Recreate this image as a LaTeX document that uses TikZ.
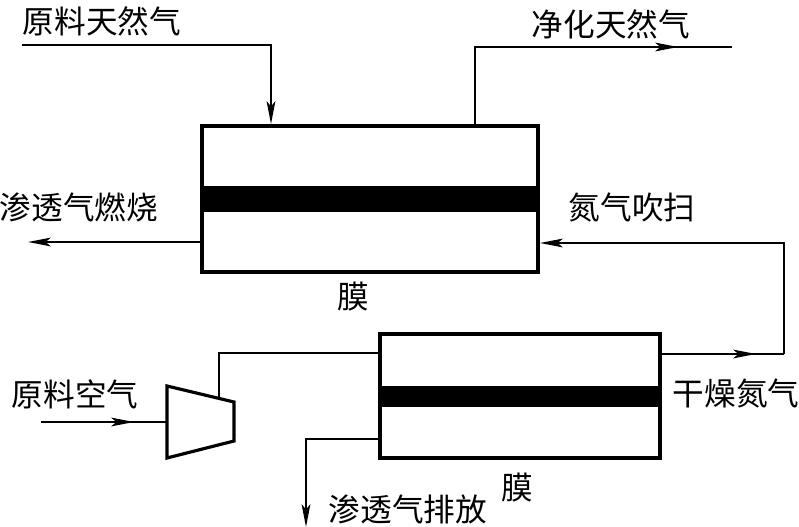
\documentclass[tikz,border=0pt]{standalone}
\usepackage{fontspec}
\setmainfont{Noto Sans CJK SC}
\usetikzlibrary{arrows.meta}

\begin{document}
\begin{tikzpicture} [x = .02cm, y = -.02cm,
  membox/.style = {draw, line width = 2.3pt, inner sep = 0, outer sep = 0},
  band/.style = {fill = black, inner sep = 0, outer sep = 0},
  pipe/.style = {line width = .8pt},
  flow/.style = {line width = .8pt, -{Stealth[length = 13pt, width = 5pt, inset = 3pt]}},
  lab/.style = {font = \fontsize{18pt}{20pt}\selectfont, inner sep = 0}]
\useasboundingbox (0,0) rectangle (799,527);
% membrane units
\node(box1) [membox, minimum width = 336*.02cm, minimum height = 146*.02cm] at (370,199) {};
\node(bar1) [band, minimum width = 336*.02cm, minimum height = 26*.02cm] at (370,199) {};
\node(box2) [membox, minimum width = 280*.02cm, minimum height = 124*.02cm] at (520,396) {};
\node(bar2) [band, minimum width = 280*.02cm, minimum height = 21*.02cm] at (520,396) {};
% compressor
\coordinate(c1) at (167,386);
\coordinate(c2) at (234,402);
\coordinate(c3) at (234,441);
\coordinate(c4) at (167,458);
\draw [line width = 1.8pt] (c1) -- (c2) -- (c3) -- (c4) -- cycle;
% free ends of the pipes
\coordinate(f1) at (22,45);
\coordinate(f2) at (271,45);
\coordinate(f3) at (271,124);
\coordinate(p1) at (475,126);
\coordinate(p2) at (475,47);
\coordinate(p3) at (678,47);
\coordinate(p4) at (732,47);
\coordinate(w1) at (202,242);
\coordinate(w2) at (28,242);
\coordinate(s1) at (784,354);
\coordinate(s2) at (784,243);
\coordinate(s3) at (540,243);
\coordinate(d1) at (660,354);
\coordinate(d2) at (756,354);
\coordinate(a1) at (41,422);
\coordinate(a2) at (134,422);
\coordinate(a3) at (167,422);
\coordinate(o1) at (219,398);
\coordinate(o2) at (219,353);
\coordinate(o3) at (380,353);
\coordinate(v1) at (380,439);
\coordinate(v2) at (306,439);
\coordinate(v3) at (306,527);
% pipes
\draw [flow] (f1) -- (f2) -- (f3);
\draw [pipe] (p1) -- (p2) -- (p4);
\draw [flow] (p2) -- (p3);
\draw [flow] (w1) -- (w2);
\draw [flow] (s1) -- (s2) -- (s3);
\draw [pipe] (d1) -- (s1);
\draw [flow] (d1) -- (d2);
\draw [pipe] (a1) -- (a3);
\draw [flow] (a1) -- (a2);
\draw [pipe] (o1) -- (o2) -- (o3);
\draw [flow] (v1) -- (v2) -- (v3);
% labels
\node(t1) [lab] at (102,21) {原料天然气};
\node(t2) [lab] at (611,24) {净化天然气};
\node(t3) [lab] at (79,207) {渗透气燃烧};
\node(t4) [lab] at (632,207) {氮气吹扫};
\node(t5) [lab] at (353,297) {膜};
\node(t6) [lab] at (75,394) {原料空气};
\node(t7) [lab] at (736,393) {干燥氮气};
\node(t8) [lab] at (517,488) {膜};
\node(t9) [lab] at (408,509) {渗透气排放};
\end{tikzpicture}
\end{document}
